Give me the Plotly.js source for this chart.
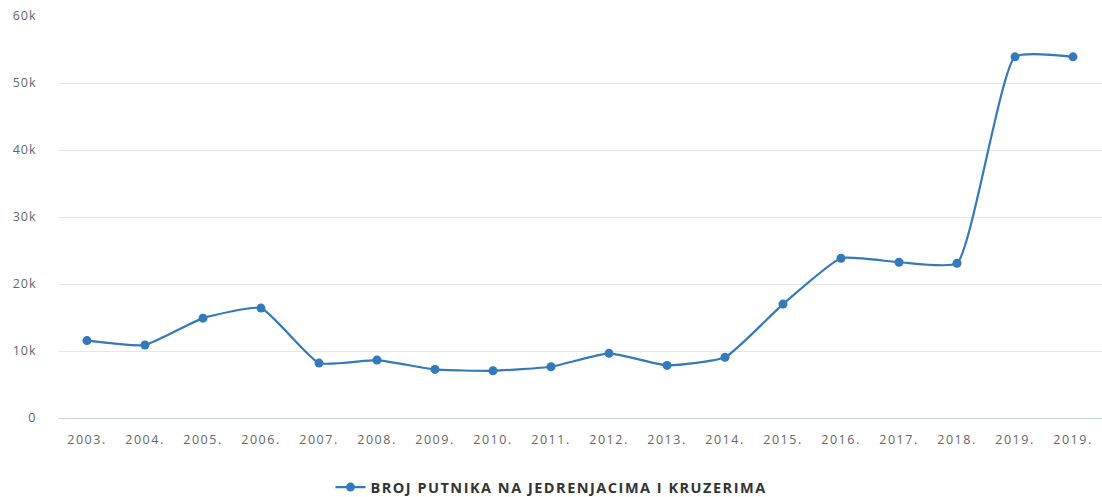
<!DOCTYPE html>
<html>
<head>
<meta charset="utf-8">
<script src="https://cdn.plot.ly/plotly-3.0.1.min.js"></script>
<style>
html,body{margin:0;padding:0;background:#fff;}
#chart{width:1102px;height:497px;}
#chart .xtick text{letter-spacing:1.5px;}
#chart .ytick text{letter-spacing:1px;}
#chart .legendtext{letter-spacing:1.5px;}
</style>
</head>
<body>
<div id="chart"></div>
<script>
const categories = ["2003.","2004.","2005.","2006.","2007.","2008.","2009.","2010.","2011.","2012.","2013.","2014.","2015.","2016.","2017.","2018.","2019.","2019."];
const seriesName = "BROJ PUTNIKA NA JEDRENJACIMA I KRUZERIMA";
const values = [11550, 10900, 14900, 16400, 8200, 8650, 7250, 7050, 7650, 9650, 7850, 9050, 17000, 23850, 23250, 23100, 53900, 53900];
const yTickVals = [0, 10000, 20000, 30000, 40000, 50000, 60000];
const yTickText = ["0", "10k", "20k", "30k", "40k", "50k", "60k"];

const xIdx = categories.map((c, i) => i);

const trace = {
  type: 'scatter',
  mode: 'lines+markers',
  name: seriesName,
  x: xIdx,
  y: values,
  line: {color: '#3479b9', width: 2.2, shape: 'spline', smoothing: 0.45},
  marker: {color: '#3479b9', size: 9},
  hoverinfo: 'y'
};

const layout = {
  width: 1102,
  height: 497,
  margin: {l: 58, r: 0, t: 16, b: 79, autoexpand: false},
  paper_bgcolor: '#fff',
  plot_bgcolor: '#fff',
  font: {family: '"Open Sans", "DejaVu Sans", sans-serif', color: '#666', size: 12},
  xaxis: {
    range: [-0.5, categories.length - 0.5],
    tickvals: xIdx,
    ticktext: categories,
    showgrid: false,
    zeroline: false,
    showline: false,
    ticks: 'outside',
    ticklen: 10,
    tickcolor: 'rgba(0,0,0,0)',
    tickfont: {size: 12.5, color: '#666'},
    fixedrange: true
  },
  yaxis: {
    range: [0, 60000],
    tickvals: yTickVals,
    ticktext: yTickText,
    showgrid: true,
    gridcolor: '#e6e6e6',
    gridwidth: 1,
    zeroline: true,
    zerolinecolor: '#ccd6eb',
    zerolinewidth: 1,
    showline: false,
    ticks: 'outside',
    ticklen: 18,
    tickcolor: 'rgba(0,0,0,0)',
    tickfont: {size: 12.5, color: '#666'},
    fixedrange: true
  },
  showlegend: true,
  legend: {
    orientation: 'h',
    x: 0.261,
    xanchor: 'left',
    y: -0.172,
    yanchor: 'middle',
    itemwidth: 30,
    entrywidth: 480,
    font: {size: 14.5, color: '#333', family: '"Open Sans", "DejaVu Sans", sans-serif', weight: 'bold'},
    bgcolor: 'rgba(0,0,0,0)'
  }
};

Plotly.newPlot('chart', [trace], layout, {displayModeBar: false, staticPlot: true});
</script>
</body>
</html>
